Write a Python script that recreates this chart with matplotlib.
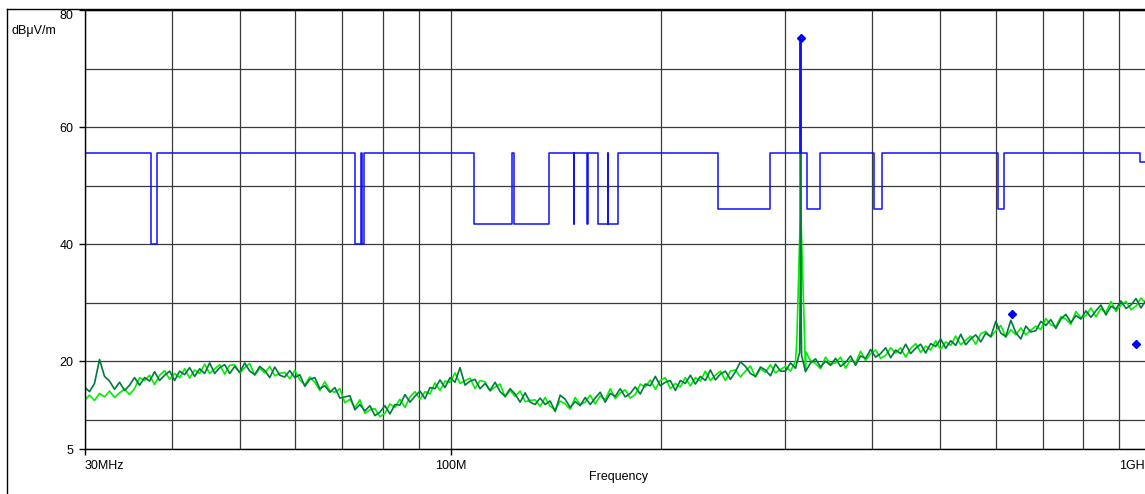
import numpy as np
import matplotlib.pyplot as plt
import matplotlib.transforms as mtransforms
from matplotlib.lines import Line2D
from matplotlib.ticker import NullFormatter

plt.rcParams['font.family'] = ['Liberation Sans', 'DejaVu Sans']
plt.rcParams['font.size'] = 9

# sweep grid of the receiver (log spaced)
freq_mhz = np.geomspace(30, 1000, 214)

dark_dbuv = [
    15.6, 14.8, 16.2, 20.3, 17.4, 16.6, 15.2, 16.4, 15.0, 15.9,
    17.2, 15.9, 17.2, 16.6, 18.2, 16.7, 17.6, 18.3, 16.7, 18.3,
    17.7, 18.9, 17.4, 18.7, 17.9, 19.7, 17.9, 18.9, 19.4, 17.9,
    19.1, 18.1, 19.7, 18.3, 17.7, 19.1, 18.4, 17.2, 19.0, 17.6,
    17.3, 18.4, 17.2, 17.7, 15.7, 16.9, 17.2, 15.3, 15.8, 14.7,
    15.5, 13.7, 13.9, 14.1, 11.7, 12.6, 11.5, 12.4, 10.7, 11.3,
    12.4, 11.0, 12.6, 12.5, 14.3, 13.0, 14.0, 14.9, 13.6, 15.5,
    15.3, 16.8, 15.5, 17.2, 16.4, 18.9, 15.9, 16.6, 16.9, 15.3,
    16.2, 15.0, 16.4, 14.8, 14.0, 15.3, 14.4, 13.0, 14.6, 13.0,
    12.6, 13.7, 12.6, 13.2, 11.4, 14.2, 13.5, 12.1, 13.1, 12.4,
    13.8, 12.6, 13.7, 14.7, 13.0, 14.5, 14.0, 15.3, 13.9, 14.5,
    15.6, 14.4, 16.1, 15.8, 17.4, 15.8, 16.4, 16.7, 15.0, 16.7,
    16.2, 17.6, 16.1, 17.4, 16.7, 18.5, 16.8, 17.8, 18.3, 16.9,
    18.2, 19.9, 19.1, 17.9, 17.4, 19.0, 18.5, 17.5, 19.5, 18.3,
    18.3, 19.7, 18.8, 75.0, 18.2, 19.7, 20.4, 19.0, 20.0, 19.3,
    20.5, 19.1, 19.8, 20.9, 19.3, 20.9, 20.5, 22.0, 20.7, 21.3,
    22.3, 20.6, 21.9, 21.3, 22.9, 21.3, 22.2, 22.9, 21.4, 23.0,
    22.5, 23.8, 22.2, 23.5, 22.7, 24.6, 22.8, 23.8, 24.5, 23.3,
    24.8, 24.2, 26.8, 24.8, 24.2, 27.0, 24.9, 23.8, 26.0, 25.0,
    25.2, 26.8, 26.1, 27.1, 25.6, 27.2, 28.0, 26.6, 27.8, 27.2,
    28.6, 27.5, 28.6, 29.6, 27.9, 29.4, 28.9, 30.3, 29.0, 29.6,
    30.7, 29.1, 30.4, 29.8,
]

light_dbuv = [
    13.3, 14.2, 13.3, 14.5, 13.9, 14.9, 13.8, 14.6, 15.2, 14.3,
    15.3, 17.2, 16.7, 17.6, 16.0, 17.6, 18.4, 16.9, 17.9, 17.2,
    18.7, 17.1, 18.5, 17.9, 19.5, 17.9, 18.7, 19.4, 17.8, 19.3,
    19.4, 18.0, 18.9, 19.6, 17.6, 18.8, 18.0, 19.1, 17.5, 17.9,
    18.1, 17.0, 18.4, 16.8, 16.0, 17.3, 16.4, 15.0, 16.5, 14.9,
    14.7, 15.3, 12.9, 13.5, 12.1, 13.4, 11.1, 11.7, 11.9, 10.5,
    11.1, 12.7, 12.1, 13.5, 12.1, 13.9, 14.8, 13.5, 14.8, 14.4,
    16.3, 15.0, 16.6, 16.4, 18.0, 16.2, 16.7, 17.1, 15.3, 16.7,
    16.5, 14.9, 15.6, 16.1, 13.9, 15.0, 14.0, 14.9, 13.1, 13.3,
    13.4, 12.3, 13.8, 12.3, 11.7, 13.2, 12.7, 11.8, 13.8, 12.6,
    13.0, 14.2, 12.7, 14.1, 13.4, 15.3, 13.6, 14.6, 15.1, 13.7,
    14.3, 16.1, 15.6, 16.8, 15.2, 16.7, 17.2, 15.3, 16.2, 15.6,
    17.2, 15.8, 17.2, 16.6, 18.3, 16.7, 17.6, 18.3, 16.7, 18.3,
    18.5, 17.3, 18.3, 19.2, 17.3, 18.7, 18.1, 19.4, 18.0, 18.6,
    19.1, 18.3, 20.0, 75.0, 18.5, 20.1, 19.6, 18.7, 20.7, 19.5,
    19.7, 20.7, 18.8, 20.3, 19.7, 21.7, 20.1, 21.3, 21.9, 20.5,
    21.0, 22.3, 21.4, 22.3, 20.7, 22.2, 23.0, 21.5, 22.6, 21.9,
    23.5, 22.0, 23.3, 22.7, 24.3, 22.8, 23.6, 24.3, 22.9, 24.7,
    25.1, 24.1, 25.2, 26.1, 24.1, 25.4, 24.5, 25.7, 24.5, 25.3,
    26.0, 25.4, 27.3, 26.2, 25.9, 27.6, 27.2, 26.3, 28.5, 27.4,
    27.8, 29.1, 27.6, 29.0, 28.3, 30.2, 28.5, 29.6, 30.2, 28.8,
    29.4, 30.8, 29.9, 30.8,
]

# extra points on the flanks of the 316 MHz carrier
dark_spike_freq = [315.0, 315.8, 316.2, 317.0]
dark_spike_dbuv = [21.5, 35.0, 35.0, 21.0]
light_spike_freq = [312.1, 315.7, 316.3, 321.5]
light_spike_dbuv = [23.6, 45.0, 45.0, 21.6]

# blue limit trace (step, level holds from each frequency on)
limit_freq = [30, 37.3, 38.1, 72.9, 74.4, 74.7, 75.2, 107.8, 122.2, 123.0,
              138.0, 149.8, 149.9, 156.8, 157.1, 162.2, 167.5, 167.8, 173.6,
              240.7, 285.6, 315.8, 316.3, 322.9, 336.6, 401.6, 412.4,
              604.6, 616.4, 964.0, 1000]
limit_level = [55.6, 40.0, 55.6, 40.0, 55.6, 40.0, 55.6, 43.4, 55.6, 43.4,
               55.6, 43.4, 55.6, 43.4, 55.6, 43.4, 55.6, 43.4, 55.6,
               46.0, 55.6, 75.3, 55.6, 46.0, 55.6, 46.0, 55.6,
               46.0, 55.6, 54.0, 54.0]

marker_freq = [316.0, 633.0, 952.0]
marker_level = [75.3, 28.1, 23.0]

fd = np.concatenate([freq_mhz, dark_spike_freq])
vd = np.concatenate([dark_dbuv, dark_spike_dbuv])
o = np.argsort(fd)
fd, vd = fd[o], vd[o]
fl = np.concatenate([freq_mhz, light_spike_freq])
vl = np.concatenate([light_dbuv, light_spike_dbuv])
o = np.argsort(fl)
fl, vl = fl[o], vl[o]

W, H = 1145, 494
fig = plt.figure(figsize=(W / 100, H / 100), dpi=100)
ax = fig.add_axes([84.5 / W, 1 - 449 / H, (1151 - 84.5) / W, (449 - 10) / H])

ax.plot(fl, vl, color='#00f000', lw=1.2)
ax.plot(fd, vd, color='#007a3d', lw=1.2)
ax.step(limit_freq, limit_level, where='post', color='#1010ff', lw=1.1)
ax.plot(marker_freq, marker_level, 'D', color='#0000ff', ms=4.5, lw=0)

ax.set_xscale('log')
ax.set_xlim(30, 1000)
ax.set_ylim(5, 80)

ax.set_xticks([30, 100, 1000], ['30MHz', '100M', '1GHz'])
ax.set_xticks([40, 50, 60, 70, 80, 90, 200, 300, 400, 500, 600, 700, 800, 900],
              minor=True)
ax.xaxis.set_minor_formatter(NullFormatter())
xl = ax.get_xticklabels()
xl[0].set_ha('left')
xl[2].set_ha('right')

ax.set_yticks([5, 20, 40, 60, 80])
ax.set_yticks([10, 30, 50, 70], minor=True)
top_lbl = ax.get_yticklabels()[-1]
top_lbl.set_va('top')
top_lbl.set_transform(top_lbl.get_transform()
                      + mtransforms.ScaledTranslation(0, -3 / 100, fig.dpi_scale_trans))

ax.tick_params(which='major', length=4, width=1, color='k', pad=4, labelsize=9)
ax.tick_params(which='minor', length=0)
ax.grid(True, which='both', color='#3a3a3a', lw=0.9)
ax.set_axisbelow(True)
for s in ax.spines.values():
    s.set_color('k')
    s.set_linewidth(1)

fig.text(11 / W, 1 - 31 / H, 'dB\u03bcV/m', ha='left', va='center', fontsize=9)
fig.text(618 / W, 1 - 477 / H, 'Frequency', ha='center', va='center', fontsize=9)

# outer frame of the printout
fx = 7 / W
fy = 1 - 9.5 / H
fig.add_artist(Line2D([fx, fx], [0, fy], transform=fig.transFigure, color='k', lw=1))
fig.add_artist(Line2D([fx, 1], [fy, fy], transform=fig.transFigure, color='k', lw=1))

fig.savefig('out.png', dpi=100)
